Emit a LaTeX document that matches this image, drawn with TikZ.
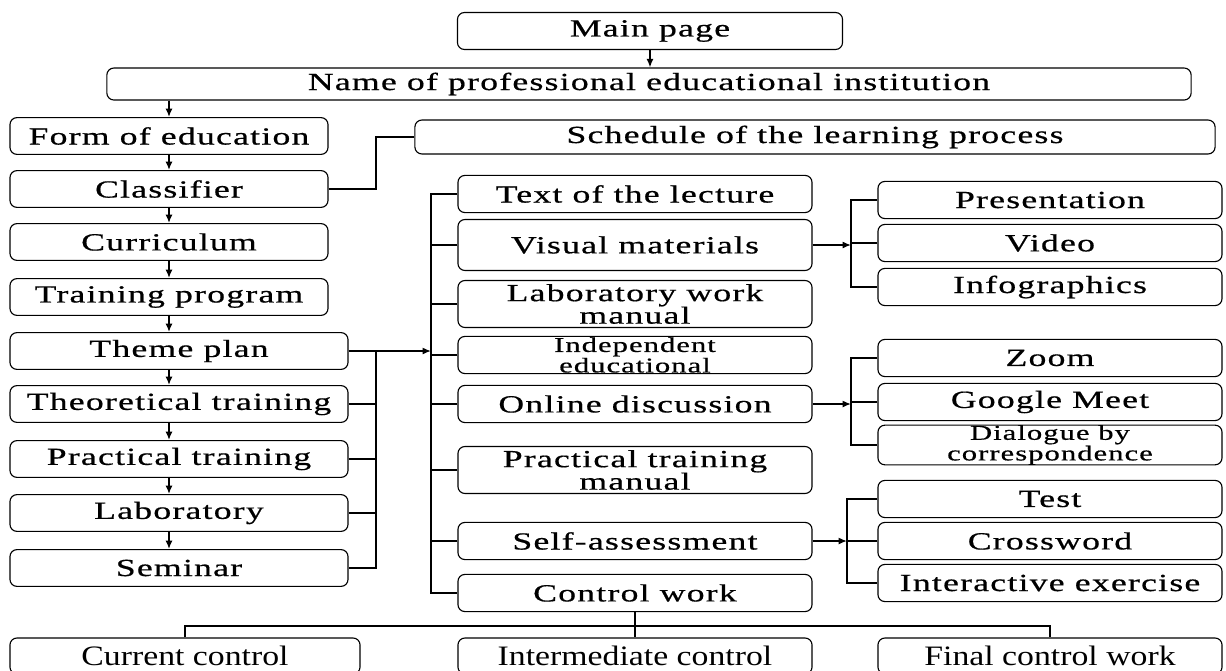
\documentclass[tikz,border=0pt]{standalone}
\usepackage{fontspec}
\setmainfont{Liberation Serif}[FakeStretch=1.45,LetterSpace=5,FakeBold=0.6]
\newfontfamily\plainfont{Liberation Serif}[FakeStretch=1.2]
\usetikzlibrary{arrows.meta}

\begin{document}
\begin{tikzpicture}[
        x=0.025cm, y=-0.025cm,
        box/.style={draw, rounded corners=5pt, line width=0.8pt, align=center, inner sep=0pt,
            font=\fontsize{17.5}{16}\selectfont},
        lbox/.style={box, minimum width=7.95cm, minimum height=0.92cm},
        wbox/.style={box, minimum width=8.45cm, minimum height=0.92cm},
        mbox/.style={box, minimum width=8.85cm, minimum height=0.93cm},
        rbox/.style={box, minimum width=8.6cm, minimum height=0.93cm},
        small/.style={font=\fontsize{15}{12}\selectfont},
        bbox/.style={box, minimum height=0.9cm, font=\plainfont\fontsize{20}{21}\selectfont},
        link/.style={line width=1.1pt},
        arr/.style={link, -{Latex[length=6pt,width=5pt]}}
    ]
    \useasboundingbox (0,0) rectangle (1226,671);

    % top
    \node[box, minimum width=9.625cm, minimum height=0.925cm] (main) at (650,31) {Main page};
    \node[box, minimum width=27.1cm, minimum height=0.8cm] (inst) at (649,84) {Name of professional educational institution};
    \node[box, minimum width=20cm, minimum height=0.85cm] (sched) at (815,137) {Schedule of the learning process};

    % left column
    \node[lbox] (form) at (169,136) {Form of education};
    \node[lbox] (classif) at (169,189) {Classifier};
    \node[lbox] (curric) at (169,242) {Curriculum};
    \node[lbox] (program) at (169,297) {Training program};
    \node[wbox] (theme) at (179,351) {Theme plan};
    \node[wbox] (theory) at (179,404) {Theoretical training};
    \node[wbox] (practice) at (179,459) {Practical training};
    \node[wbox] (lab) at (179,513) {Laboratory};
    \node[wbox] (seminar) at (179,568) {Seminar};

    % middle column
    \node[mbox] (lecture) at (635,194) {Text of the lecture};
    \node[mbox, minimum height=1.275cm] (visual) at (635,245) {Visual materials};
    \node[mbox, minimum height=1.175cm] (labman) at (635,304) {Laboratory work\\manual};
    \node[mbox, small] (indep) at (635,355) {Independent\\educational};
    \node[mbox] (online) at (635,404) {Online discussion};
    \node[mbox, minimum height=1.175cm] (pracman) at (635,470) {Practical training\\manual};
    \node[mbox] (selfas) at (635,541) {Self-assessment};
    \node[mbox] (control) at (635,593) {Control work};

    % right column
    \node[rbox] (present) at (1050,200) {Presentation};
    \node[rbox] (video) at (1050,243) {Video};
    \node[rbox] (infogr) at (1050,287) {Infographics};
    \node[rbox] (zoom) at (1050,358) {Zoom};
    \node[rbox] (gmeet) at (1050,402) {Google Meet};
    \node[rbox, small] (dialog) at (1050,445) {Dialogue by\\correspondence};
    \node[rbox] (test) at (1050,499) {Test};
    \node[rbox] (cross) at (1050,541) {Crossword};
    \node[rbox] (interact) at (1050,583) {Interactive exercise};

    % bottom row, cut by the page edge
    \node[bbox, minimum width=8.75cm] (current) at (185,656) {Current control};
    \node[bbox, minimum width=8.85cm] (interm) at (635,656) {Intermediate control};
    \node[bbox, minimum width=8.6cm] (final) at (1050,656) {Final control work};

    % bus lines
    \coordinate (lv) at (376,0);
    \coordinate (mv) at (431,0);
    \coordinate (rva) at (851,0);
    \coordinate (rvb) at (847,0);

    % chain down the left
    \draw[arr] (main.south) -- (inst.north -| main.south);
    \draw[arr] (inst.south -| form.north) -- (form.north);
    \draw[arr] (form) -- (classif);
    \draw[arr] (classif) -- (curric);
    \draw[arr] (curric) -- (program);
    \draw[arr] (program.south) -- (theme.north -| program.south);
    \draw[arr] (theme.south -| form.south) -- (theory.north -| form.south);
    \draw[arr] (theory.south -| form.south) -- (practice.north -| form.south);
    \draw[arr] (practice.south -| form.south) -- (lab.north -| form.south);
    \draw[arr] (lab.south -| form.south) -- (seminar.north -| form.south);
    \draw[link] (classif.east) -- (classif.east -| lv) |- (sched.west);

    % theme plan to materials
    \draw[link] (theme.east) -- (theme.east -| lv) -- (seminar.east -| lv) -- (seminar.east);
    \draw[link] (theory.east) -- (theory.east -| lv);
    \draw[link] (practice.east) -- (practice.east -| lv);
    \draw[link] (lab.east) -- (lab.east -| lv);
    \draw[arr] (theme.east -| lv) -- (theme.east -| mv);
    \draw[link] (lecture.west) -- (lecture.west -| mv) -- (control.west -| mv) -- (control.west);
    \draw[link] (visual.west) -- (visual.west -| mv);
    \draw[link] (labman.west) -- (labman.west -| mv);
    \draw[link] (indep.west) -- (indep.west -| mv);
    \draw[link] (online.west) -- (online.west -| mv);
    \draw[link] (pracman.west) -- (pracman.west -| mv);
    \draw[link] (selfas.west) -- (selfas.west -| mv);

    % right groups
    \draw[arr] (visual.east) -- (visual.east -| rva);
    \draw[link] (present.west) -- (present.west -| rva) -- (infogr.west -| rva) -- (infogr.west);
    \draw[link] (video.west) -- (video.west -| rva);
    \draw[arr] (online.east) -- (online.east -| rva);
    \draw[link] (zoom.west) -- (zoom.west -| rva) -- (dialog.west -| rva) -- (dialog.west);
    \draw[link] (gmeet.west) -- (gmeet.west -| rva);
    \draw[arr] (selfas.east) -- (selfas.east -| rvb);
    \draw[link] (test.west) -- (test.west -| rvb) -- (interact.west -| rvb) -- (interact.west);
    \draw[link] (cross.west) -- (cross.west -| rvb);

    % control types
    \draw[link] (control.south) -- ++(0,14) coordinate (cj) -- (interm.north);
    \draw[link] (current.north) |- (cj) -| (final.north);
\end{tikzpicture}
\end{document}
